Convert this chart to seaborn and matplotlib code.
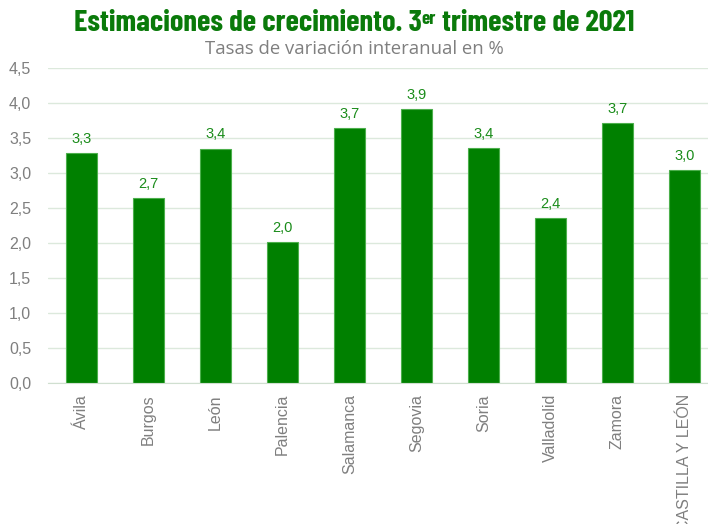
import matplotlib
matplotlib.use('Agg')
import matplotlib.pyplot as plt
import matplotlib.ticker as mticker
import seaborn as sns
import pandas as pd

provincias = ['Ávila', 'Burgos', 'León', 'Palencia', 'Salamanca', 'Segovia',
              'Soria', 'Valladolid', 'Zamora', 'CASTILLA Y LEÓN']
crecimiento = [3.29, 2.65, 3.35, 2.01, 3.65, 3.92, 3.36, 2.36, 3.71, 3.04]
etiquetas = ['3,3', '2,7', '3,4', '2,0', '3,7', '3,9', '3,4', '2,4', '3,7', '3,0']
yticks = [0, 0.5, 1.0, 1.5, 2.0, 2.5, 3.0, 3.5, 4.0, 4.5]

df = pd.DataFrame({'provincia': provincias, 'crecimiento': crecimiento})

sns.set_style('white')
plt.rcParams['font.family'] = ['Liberation Sans', 'DejaVu Sans']

verde = '#008000'
gris = '#7f7f7f'

fig = plt.figure(figsize=(7.08, 5.24), dpi=100)
ax = fig.add_axes([48 / 708, 141 / 524, 670 / 708, 315 / 524])

sns.barplot(data=df, x='provincia', y='crecimiento', color=verde,
            width=0.45, edgecolor='#4caf4c', linewidth=0.8, saturation=1, ax=ax)

for i, (v, t) in enumerate(zip(crecimiento, etiquetas)):
    ax.text(i, v + 0.1, t, ha='center', va='bottom', color='#1a8c1a', fontsize=10.5)

ax.set_ylim(0, 4.5)
ax.set_xlim(-0.5, len(provincias) - 0.5)
ax.set_yticks(yticks)
ax.yaxis.set_major_formatter(mticker.FuncFormatter(lambda y, _: f'{y:.1f}'.replace('.', ',')))
ax.grid(axis='y', color='#dce9dc', linewidth=1)
ax.set_axisbelow(True)
for s in ['left', 'right', 'top']:
    ax.spines[s].set_visible(False)
ax.spines['bottom'].set_color('#d0dfd0')
ax.tick_params(axis='both', length=0, colors=gris, labelsize=11.5)
ax.tick_params(axis='y', pad=12)
ax.tick_params(axis='x', rotation=90, pad=8)
ax.set_xlabel('')
ax.set_ylabel('')

# titulo con superindice "er", compuesto por trozos
partes = [('Estimaciones de crecimiento. 3', 1.0, 0), ('er', 0.62, 7), (' trimestre de 2021', 1.0, 0)]
fam = ['Barlow Condensed', 'DejaVu Sans']
size = 22
renderer = fig.canvas.get_renderer()
textos = []
for txt, esc, dy in partes:
    t = fig.text(0, 0, txt, fontsize=size * esc, fontweight='bold', family=fam,
                 color='#0a7a0a', va='baseline', ha='left')
    textos.append((t, dy))
anchos = [t.get_window_extent(renderer).width for t, _ in textos]
x = (708 - sum(anchos)) / 2
for (t, dy), w in zip(textos, anchos):
    t.set_position((x / 708, (524 - 31 + dy) / 524))
    x += w

fig.text(0.5, 0.906, 'Tasas de variación interanual en %', ha='center', va='center',
         color=gris, fontsize=13.3, family='Open Sans')

fig.savefig('out.png', dpi=100)
